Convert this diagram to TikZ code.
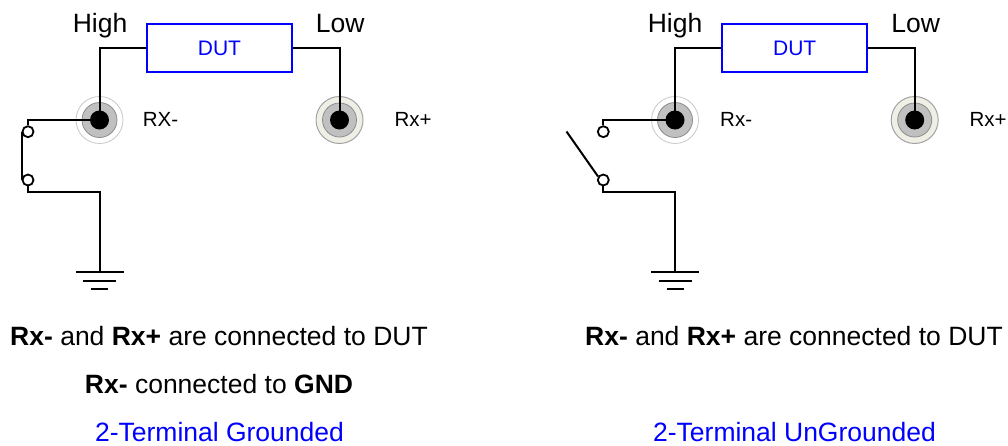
\documentclass[tikz,border=0pt]{standalone}
\usepackage{fontspec}
\setmainfont{Liberation Sans}
\definecolor{dutblue}{RGB}{0,0,255}
\definecolor{jackgray}{RGB}{192,192,192}
\definecolor{jackedge}{RGB}{140,140,140}
\definecolor{ringgray}{RGB}{200,200,200}
\definecolor{cream}{RGB}{240,239,230}
\begin{document}
\begin{tikzpicture}[x=1pt,y=-1pt]
\tikzset{
 wire/.style={line width=2pt, black},
 dutbox/.style={draw=dutblue, line width=2pt, minimum width=145pt, minimum height=48pt, inner sep=0pt, text=dutblue, font=\fontsize{21}{25}\selectfont},
 toplbl/.style={anchor=base, inner sep=0pt, font=\fontsize{26.5}{30}\selectfont},
 jacklbl/.style={anchor=base west, inner sep=0pt, font=\fontsize{20.5}{24}\selectfont},
 jackA/.style={circle, draw=ringgray, line width=0.8pt, fill=white, minimum size=47pt, inner sep=0pt},
 jackB/.style={circle, draw=jackedge!80, line width=1pt, fill=cream, minimum size=47pt, inner sep=0pt},
 jackcore/.style={fill=jackgray, draw=jackedge, line width=0.8pt},
 swterm/.style={circle, draw=black, line width=1.8pt, fill=white, minimum size=11pt, inner sep=0pt},
 note/.style={anchor=base, inner sep=0pt, font=\fontsize{26.5}{30}\selectfont},
 titletext/.style={note, text=dutblue},
}
\useasboundingbox (0,0) rectangle (1008,445);

% ================= Left panel =================
\node[dutbox] (dutL) at (219.5,48) {DUT};
\node[toplbl] (hiL) at (100,32.3) {High};
\node[toplbl] (loL) at (340.3,32.3) {Low};
\node[jackA] (jL) at (99.5,120) {};
\node[jackB] (jLp) at (339.5,120) {};
\draw[jackcore] (jL.center) circle (17.5pt);
\draw[jackcore] (jLp.center) circle (17pt);
\fill[black] (jL.center) circle (9.5pt);
\fill[black] (jLp.center) circle (9.5pt);
\node[jacklbl] (rxmL) at (142.7,126.7) {RX-};
\node[jacklbl] (rxpL) at (394.3,126.7) {Rx+};
\node[swterm] (swaL) at (28,131.7) {};
\node[swterm] (swbL) at (28,180) {};
\coordinate (cL) at (28,192);
\coordinate (gL) at (99.5,272);
\draw[wire] (dutL.west) -| (jL.center);
\draw[wire] (dutL.east) -| (jLp.center);
\draw[wire] (jL.center) -| (swaL.north);
\draw[wire] (swaL.west) -- (swbL.west);
\draw[wire] (swbL.south) -- (cL) -| (gL);
\draw[wire] ([xshift=-24pt]gL) -- ([xshift=24pt]gL);
\draw[wire] ([shift={(-16.5,9)}]gL) -- ([shift={(16.5,9)}]gL);
\draw[wire] ([shift={(-8.5,16.5)}]gL) -- ([shift={(8.5,16.5)}]gL);
\node[note] (n1L) at (219,345) {\textbf{Rx-} and \textbf{Rx+} are connected to DUT};
\node[note] (n2L) at (219,393) {\textbf{Rx-} connected to \textbf{GND}};
\node[titletext] (tL) at (219.5,441) {2-Terminal Grounded};

% ================= Right panel =================
\node[dutbox] (dutR) at (794.7,48) {DUT};
\node[toplbl] (hiR) at (675,32.3) {High};
\node[toplbl] (loR) at (915.7,32.3) {Low};
\node[jackA] (jR) at (675,120) {};
\node[jackB] (jRp) at (914.7,120) {};
\draw[jackcore] (jR.center) circle (17.5pt);
\draw[jackcore] (jRp.center) circle (17pt);
\fill[black] (jR.center) circle (9.5pt);
\fill[black] (jRp.center) circle (9.5pt);
\node[jacklbl] (rxmR) at (720,126.7) {Rx-};
\node[jacklbl] (rxpR) at (969.3,126.7) {Rx+};
\node[swterm] (swaR) at (603.3,131.7) {};
\node[swterm] (swbR) at (603.3,180) {};
\coordinate (blade) at (566.5,131.5);
\coordinate (cR) at (603.3,192);
\coordinate (gR) at (675,272);
\draw[wire] (dutR.west) -| (jR.center);
\draw[wire] (dutR.east) -| (jRp.center);
\draw[wire] (jR.center) -| (swaR.north);
\draw[wire] (blade) -- (swbR.146);
\draw[wire] (swbR.south) -- (cR) -| (gR);
\draw[wire] ([xshift=-24pt]gR) -- ([xshift=24pt]gR);
\draw[wire] ([shift={(-16.5,9)}]gR) -- ([shift={(16.5,9)}]gR);
\draw[wire] ([shift={(-8.5,16.5)}]gR) -- ([shift={(8.5,16.5)}]gR);
\node[note] (n1R) at (794,345) {\textbf{Rx-} and \textbf{Rx+} are connected to DUT};
\node[titletext] (tR) at (794.5,441) {2-Terminal UnGrounded};
\end{tikzpicture}
\end{document}
